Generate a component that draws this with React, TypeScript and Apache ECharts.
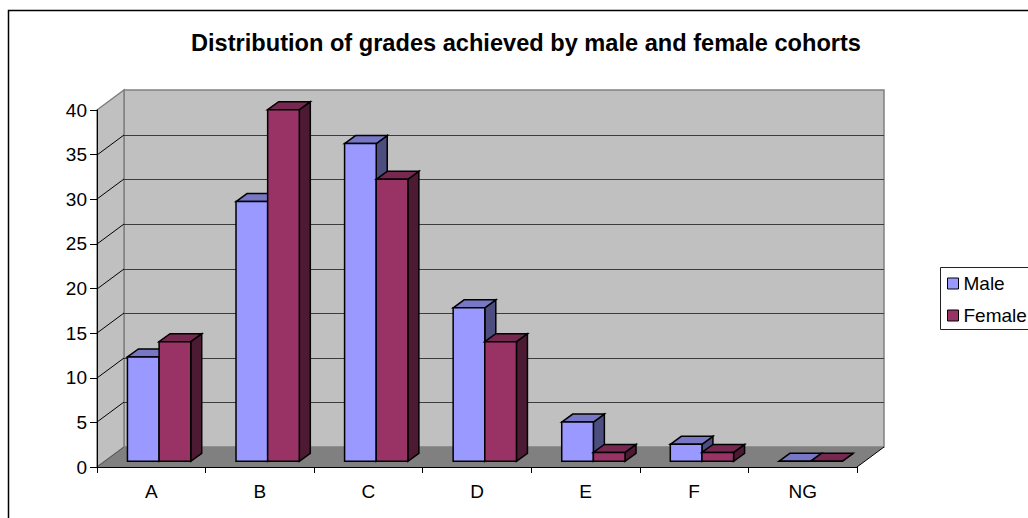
import React, { useEffect, useRef } from "react";
import * as echarts from "echarts";

const titleText = "Distribution of grades achieved by male and female cohorts";
const categories = ["A", "B", "C", "D", "E", "F", "NG"];
const maleValues = [11.7, 29.1, 35.6, 17.2, 4.4, 1.9, 0];
const femaleValues = [13.4, 39.4, 31.6, 13.4, 1, 1, 0];
const yTicks = [0, 5, 10, 15, 20, 25, 30, 35, 40];

const FONT = "'Liberation Sans', Arial, sans-serif";
const DEPTH_X = 27;
const DEPTH_Y = -20;
const BAR_OFFSET_X = 7.8;
const BAR_OFFSET_Y = -5.7;
const BAR_DEPTH_X = 11;
const BAR_DEPTH_Y = -8;

const poly = (points: number[][], fill: string, stroke: string, lineWidth: number) => ({
  type: "polygon",
  shape: { points },
  style: { fill, stroke, lineWidth, lineJoin: "miter" },
  silent: true,
});
const seg = (x1: number, y1: number, x2: number, y2: number, stroke: string, lineWidth: number) => ({
  type: "line",
  shape: { x1, y1, x2, y2 },
  style: { stroke, lineWidth },
  silent: true,
});

function renderWalls(_params: any, api: any) {
  const [x0, y0] = api.coord([0, 0]);
  const band = api.size([1, 0])[0];
  const left = x0 - band / 2;
  const right = left + band * categories.length;
  const top = api.coord([0, yTicks[yTicks.length - 1]])[1];
  const children: any[] = [
    poly([[left + DEPTH_X, top + DEPTH_Y], [right + DEPTH_X, top + DEPTH_Y], [right + DEPTH_X, y0 + DEPTH_Y], [left + DEPTH_X, y0 + DEPTH_Y]], "#C0C0C0", "#808080", 1.5),
    poly([[left, top], [left + DEPTH_X, top + DEPTH_Y], [left + DEPTH_X, y0 + DEPTH_Y], [left, y0]], "#C0C0C0", "#808080", 1.5),
  ];
  yTicks.forEach((t) => {
    if (t === 0 || t === yTicks[yTicks.length - 1]) return;
    const y = Math.round(api.coord([0, t])[1]);
    children.push(seg(left, y, left + DEPTH_X, y + DEPTH_Y, "#000", 1));
    children.push(seg(left + DEPTH_X, y + DEPTH_Y + 0.5, right + DEPTH_X, y + DEPTH_Y + 0.5, "#3c3c3c", 1));
  });
  children.push(poly([[left, y0], [right, y0], [right + DEPTH_X, y0 + DEPTH_Y], [left + DEPTH_X, y0 + DEPTH_Y]], "#808080", "none", 0));
  children.push(seg(left, y0, left + DEPTH_X, y0 + DEPTH_Y, "#555", 1));
  children.push(seg(right, y0, right + DEPTH_X, y0 + DEPTH_Y, "#000", 1));
  return { type: "group", children };
}

function barRenderer(seriesIndex: number, front: string, topFill: string, sideFill: string) {
  return (_params: any, api: any) => {
    const [cx, yBase] = api.coord([api.value(0), 0]);
    const yVal = api.coord([api.value(0), api.value(1)])[1];
    const band = api.size([1, 0])[0];
    const w = band * 0.2915;
    const x1 = cx + BAR_OFFSET_X + (seriesIndex === 0 ? -w : 0);
    const x2 = x1 + w;
    const b = yBase + BAR_OFFSET_Y;
    const t = yVal + BAR_OFFSET_Y;
    const dx = BAR_DEPTH_X;
    const dy = BAR_DEPTH_Y;
    const sw = 1.5;
    return {
      type: "group",
      children: [
        poly([[x2, t], [x2 + dx, t + dy], [x2 + dx, b + dy], [x2, b]], sideFill, "#000", sw),
        poly([[x1, t], [x1 + dx, t + dy], [x2 + dx, t + dy], [x2, t]], topFill, "#000", sw),
        poly([[x1, t], [x2, t], [x2, b], [x1, b]], front, "#000", sw),
      ],
    };
  };
}

export default function App() {
  const ref = useRef<HTMLDivElement>(null);
  useEffect(() => {
    const chart = echarts.init(ref.current!, null, { renderer: "svg" });
    chart.setOption({
      animation: false,
      backgroundColor: "#fff",
      title: {
        text: titleText,
        left: 521,
        top: 26,
        textAlign: "center",
        textStyle: { fontFamily: FONT, fontSize: 23.6, fontWeight: "bold", color: "#000" },
      },
      grid: { left: 97, right: 171, top: 110, bottom: 51, containLabel: false },
      xAxis: {
        type: "category",
        data: categories,
        z: 5,
        axisLine: { lineStyle: { color: "#000", width: 1 } },
        axisTick: { show: true, length: 6, lineStyle: { color: "#000" } },
        axisLabel: { fontFamily: FONT, fontSize: 19, color: "#000", margin: 15 },
        splitLine: { show: false },
      },
      yAxis: {
        type: "value",
        min: 0,
        max: 40,
        interval: 5,
        z: 5,
        axisLine: { show: true, lineStyle: { color: "#000", width: 1 } },
        axisTick: { show: true, length: 7, lineStyle: { color: "#000" } },
        axisLabel: { fontFamily: FONT, fontSize: 19, color: "#000", margin: 10 },
        splitLine: { show: false },
      },
      legend: {
        orient: "vertical",
        left: 947,
        top: 274,
        padding: 0,
        itemWidth: 11,
        itemHeight: 11,
        itemGap: 13,
        selectedMode: false,
        icon: "rect",
        itemStyle: { borderColor: "#000", borderWidth: 1 },
        textStyle: { fontFamily: FONT, fontSize: 19, color: "#000" },
        data: ["Male", "Female"],
      },
      graphic: [
        { type: "polyline", z: 0, shape: { points: [[8.5, 518], [8.5, 10.5], [1028, 10.5]] }, style: { stroke: "#000", lineWidth: 1.5, fill: "none" } },
        { type: "rect", z: 0, shape: { x: 940.5, y: 267.5, width: 120, height: 62 }, style: { stroke: "#222", lineWidth: 1, fill: "#fff" } },
      ],
      series: [
        {
          type: "custom",
          name: "walls",
          z: 1,
          clip: false,
          silent: true,
          coordinateSystem: "cartesian2d",
          renderItem: renderWalls,
          data: [[categories[0], 0]],
        },
        {
          type: "custom",
          name: "Male",
          z: 2,
          clip: false,
          silent: true,
          itemStyle: { color: "#9999FF" },
          renderItem: barRenderer(0, "#9999FF", "#7777C6", "#4D4D80"),
          data: maleValues.map((v, i) => [categories[i], v]),
        },
        {
          type: "custom",
          name: "Female",
          z: 3,
          clip: false,
          silent: true,
          itemStyle: { color: "#993366" },
          renderItem: barRenderer(1, "#993366", "#772850", "#4D1A33"),
          data: femaleValues.map((v, i) => [categories[i], v]),
        },
      ],
    });
    return () => chart.dispose();
  }, []);
  return <div ref={ref} style={{ position: "absolute", left: 0, top: 0, width: 1028, height: 518 }} />;
}
